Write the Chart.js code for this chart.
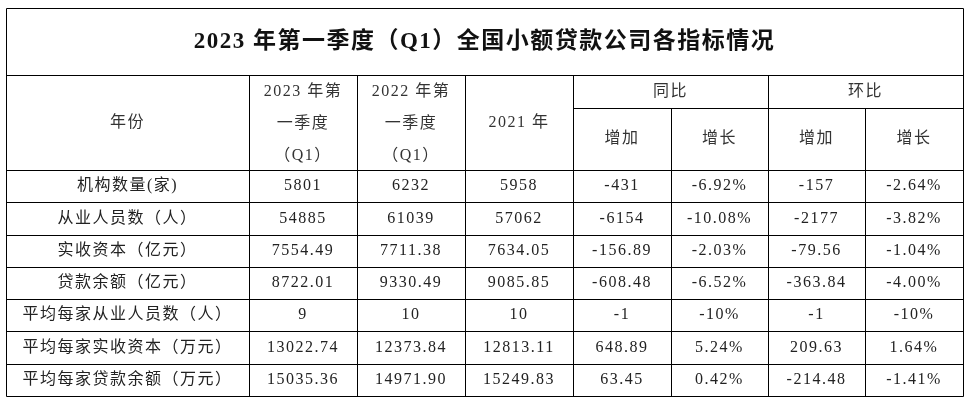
<!DOCTYPE html>
<html>
<head>
<meta charset="utf-8">
<script src="https://cdn.jsdelivr.net/npm/chart.js@4"></script>
<style>
  html, body { margin: 0; padding: 0; background: #fff; }
  #wrap { width: 969px; height: 401px; }
</style>
</head>
<body>
<div id="wrap"><canvas id="chart"></canvas></div>
<script>
const title = '2023 年第一季度（Q1）全国小额贷款公司各指标情况';
const rowLabels = ['机构数量(家)', '从业人员数（人）', '实收资本（亿元）', '贷款余额（亿元）', '平均每家从业人员数（人）', '平均每家实收资本（万元）', '平均每家贷款余额（万元）'];
const q1_2023 = ['5801', '54885', '7554.49', '8722.01', '9', '13022.74', '15035.36'];
const q1_2022 = ['6232', '61039', '7711.38', '9330.49', '10', '12373.84', '14971.90'];
const y2021 = ['5958', '57062', '7634.05', '9085.85', '10', '12813.11', '15249.83'];
const yoyAdd = ['-431', '-6154', '-156.89', '-608.48', '-1', '648.89', '63.45'];
const yoyGrowth = ['-6.92%', '-10.08%', '-2.03%', '-6.52%', '-10%', '5.24%', '0.42%'];
const qoqAdd = ['-157', '-2177', '-79.56', '-363.84', '-1', '209.63', '-214.48'];
const qoqGrowth = ['-2.64%', '-3.82%', '-1.04%', '-4.00%', '-10%', '1.64%', '-1.41%'];

// grid layout in scale units (scale spans the canvas 0..969 x 0..401)
const colEdges = [6, 249, 357, 465, 573, 671, 768, 865, 963];
const topY = 8, titleBottom = 75, subY = 108, headBottom = 170, bottomY = 396;

const font = '"Liberation Serif", "Noto Sans CJK SC", serif';

const tablePlugin = {
  id: 'table',
  afterDraw(chart) {
    const { ctx, scales: { x, y } } = chart;
    const px = v => x.getPixelForValue(v);
    const py = v => y.getPixelForValue(v);
    const rowH = (bottomY - headBottom) / rowLabels.length;

    ctx.save();
    ctx.strokeStyle = '#000';
    ctx.lineWidth = 1;
    const line = (x1, y1, x2, y2) => {
      ctx.beginPath();
      ctx.moveTo(Math.round(px(x1)) + 0.5, Math.round(py(y1)) + 0.5);
      ctx.lineTo(Math.round(px(x2)) + 0.5, Math.round(py(y2)) + 0.5);
      ctx.stroke();
    };
    const L = colEdges[0], R = colEdges[colEdges.length - 1];
    line(L, topY, R, topY);
    line(L, titleBottom, R, titleBottom);
    line(colEdges[4], subY, R, subY);
    line(L, headBottom, R, headBottom);
    for (let i = 1; i <= rowLabels.length; i++) line(L, headBottom + rowH * i, R, headBottom + rowH * i);
    line(L, topY, L, bottomY);
    line(R, topY, R, bottomY);
    colEdges.slice(1, -1).forEach((c, i) => {
      const idx = i + 1;
      const startY = (idx === 5 || idx === 7) ? subY : titleBottom;
      line(c, startY, c, bottomY);
    });

    ctx.fillStyle = '#111';
    ctx.textAlign = 'center';
    ctx.textBaseline = 'middle';
    const text = (s, cx, cy) => ctx.fillText(s, px(cx), py(cy));
    const mid = (a, b) => (colEdges[a] + colEdges[b]) / 2;

    ctx.font = 'bold 23px ' + font;
    ctx.letterSpacing = '1.5px';
    text(title, (L + R) / 2, (topY + titleBottom) / 2 + 1);

    ctx.font = '16px ' + font;
    ctx.letterSpacing = '1.5px';
    ctx.fillStyle = '#333';
    text('年份', mid(0, 1), 123);
    [['2023 年第', '一季度', '（Q1）'], ['2022 年第', '一季度', '（Q1）']].forEach((lines, k) => {
      lines.forEach((s, j) => text(s, mid(1 + k, 2 + k), 92 + j * 32));
    });
    text('2021 年', mid(3, 4), 123);
    text('同比', mid(4, 6), 92);
    text('环比', mid(6, 8), 92);
    ['增加', '增长', '增加', '增长'].forEach((s, k) => text(s, mid(4 + k, 5 + k), 139));

    const cols = [rowLabels, q1_2023, q1_2022, y2021, yoyAdd, yoyGrowth, qoqAdd, qoqGrowth];
    ctx.fillStyle = '#222';
    rowLabels.forEach((_, r) => {
      const cy = headBottom + rowH * (r + 0.5);
      cols.forEach((col, c) => text(col[r], mid(c, c + 1), cy));
    });
    ctx.restore();
  }
};

new Chart(document.getElementById('chart'), {
  type: 'scatter',
  data: { datasets: [{ data: [] }] },
  options: {
    responsive: true,
    maintainAspectRatio: false,
    animation: false,
    layout: { padding: 0 },
    plugins: { legend: { display: false }, tooltip: { enabled: false } },
    scales: {
      x: { type: 'linear', min: 0, max: 969, display: false },
      y: { type: 'linear', min: 0, max: 401, reverse: true, display: false }
    }
  },
  plugins: [tablePlugin]
});
</script>
</body>
</html>
